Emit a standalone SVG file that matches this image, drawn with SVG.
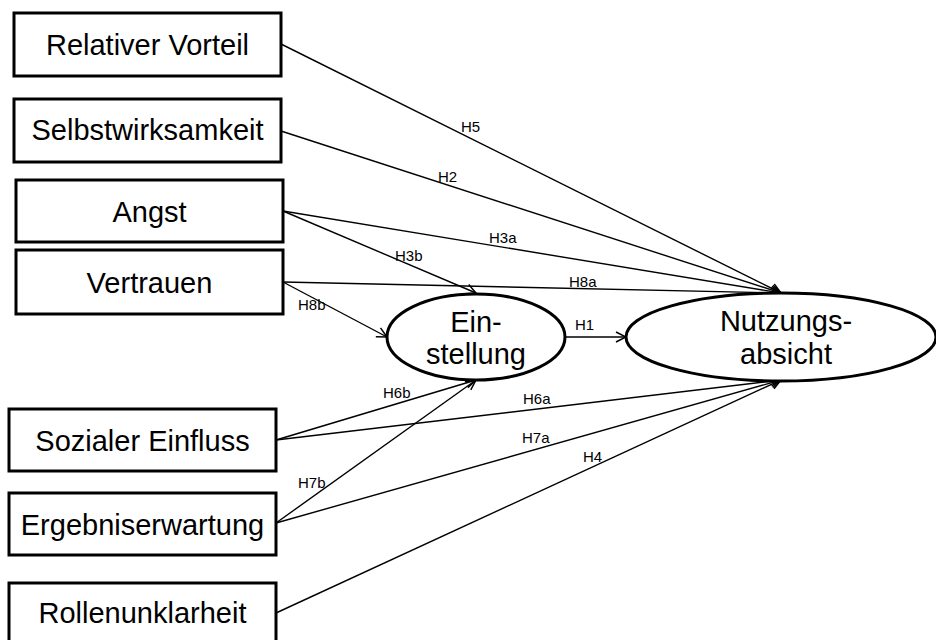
<svg xmlns="http://www.w3.org/2000/svg" width="936" height="640" viewBox="0 0 936 640">
<style>
.box{fill:#fff;stroke:#000;stroke-width:3}
.ell{fill:#fff;stroke:#000;stroke-width:3}
.t{font-family:"Liberation Sans",Arial,sans-serif;font-size:29px;fill:#000;text-anchor:middle}
.l{font-family:"Liberation Sans",Arial,sans-serif;font-size:15px;fill:#000}
.c{stroke:#000;stroke-width:1.4;fill:none;marker-end:url(#arr)}
</style>
<defs>
<marker id="arr" viewBox="0 0 12 12" refX="11" refY="6" markerWidth="12" markerHeight="12" markerUnits="userSpaceOnUse" orient="auto">
<polyline points="1,1 11,6 1,11" fill="none" stroke="#000" stroke-width="1.5"/>
</marker>
</defs>
<rect width="936" height="640" fill="#fff"/>
<g id="connectors">
<line class="c" x1="281" y1="44" x2="781" y2="293"/>
<line class="c" x1="281" y1="131" x2="781" y2="293"/>
<line class="c" x1="283" y1="211" x2="781" y2="293"/>
<line class="c" x1="283" y1="211" x2="476" y2="293"/>
<line class="c" x1="283" y1="282" x2="781" y2="293"/>
<line class="c" x1="283" y1="282" x2="387" y2="337"/>
<line class="c" x1="565" y1="337" x2="626" y2="337"/>
<line class="c" x1="276" y1="440" x2="476" y2="380"/>
<line class="c" x1="276" y1="440" x2="781" y2="380"/>
<line class="c" x1="276" y1="523" x2="476" y2="380"/>
<line class="c" x1="276" y1="523" x2="781" y2="380"/>
<line class="c" x1="276" y1="613" x2="781" y2="380"/>
<text class="l" x="461" y="132">H5</text>
<text class="l" x="438" y="182">H2</text>
<text class="l" x="489" y="243">H3a</text>
<text class="l" x="395" y="261">H3b</text>
<text class="l" x="569" y="287">H8a</text>
<text class="l" x="298" y="310">H8b</text>
<text class="l" x="575" y="330">H1</text>
<text class="l" x="383" y="398">H6b</text>
<text class="l" x="523" y="404">H6a</text>
<text class="l" x="522" y="443">H7a</text>
<text class="l" x="583" y="462">H4</text>
<text class="l" x="298" y="488">H7b</text>
</g>
<g id="relativer-vorteil"><rect class="box" x="14" y="13" width="267" height="63"/><text class="t" x="147.5" y="55">Relativer Vorteil</text></g>
<g id="selbstwirksamkeit"><rect class="box" x="14" y="99" width="267" height="63"/><text class="t" x="147.5" y="140">Selbstwirksamkeit</text></g>
<g id="angst"><rect class="box" x="16" y="180" width="267" height="62"/><text class="t" x="149.5" y="222">Angst</text></g>
<g id="vertrauen"><rect class="box" x="16" y="250" width="267" height="64"/><text class="t" x="149.5" y="293">Vertrauen</text></g>
<g id="sozialer-einfluss"><rect class="box" x="9" y="409" width="267" height="62"/><text class="t" x="142.5" y="451">Sozialer Einfluss</text></g>
<g id="ergebniserwartung"><rect class="box" x="9" y="493" width="267" height="62"/><text class="t" x="142.5" y="535">Ergebniserwartung</text></g>
<g id="rollenunklarheit"><rect class="box" x="9" y="583" width="267" height="64"/><text class="t" x="142.5" y="623">Rollenunklarheit</text></g>
<g id="einstellung"><ellipse class="ell" cx="476" cy="337" rx="89" ry="43"/><text class="t" x="476" y="332">Ein-</text><text class="t" x="476" y="364">stellung</text></g>
<g id="nutzungsabsicht"><ellipse class="ell" cx="781" cy="337" rx="155" ry="44"/><text class="t" x="786" y="331">Nutzungs-</text><text class="t" x="786" y="364">absicht</text></g>
</svg>
